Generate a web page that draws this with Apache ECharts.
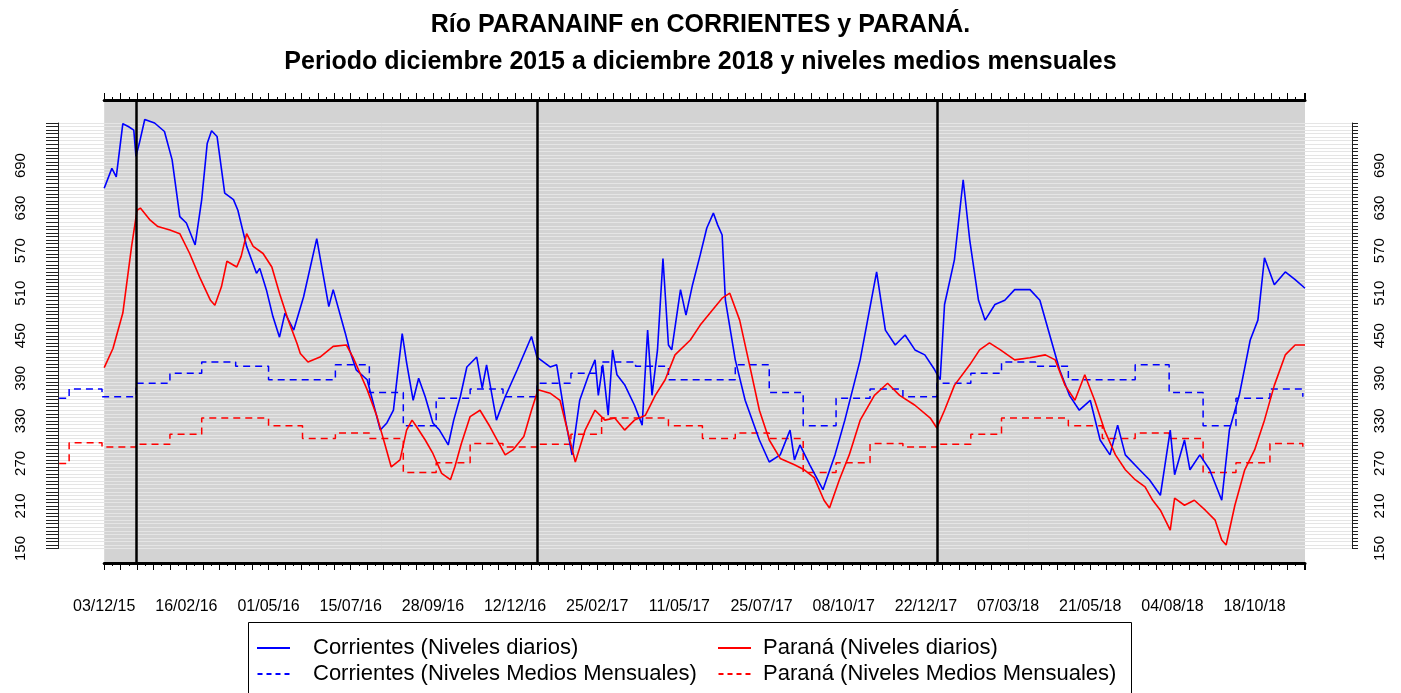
<!DOCTYPE html>
<html><head><meta charset="utf-8">
<script src="https://cdn.jsdelivr.net/npm/echarts@6/dist/echarts.min.js"></script>
<style>html,body{margin:0;padding:0;background:#fff}#c{width:1401px;height:693px}</style>
</head><body><div id="c"></div><script>
// ---- DATA (days counted from 03/12/2015 = day 0) ----
const corrDays = [0,7,11,17,22,27,29,32,37,46,55,62,69,75,83,89,94,98,103,110,118,122,130,139,142,148,154,160,165,173,182,194,205,209,220,224,230,240,252,258,264,272,276,282,287,293,300,306,314,319,325,331,340,345,349,358,366,377,390,395,407,413,421,427,434,442,448,451,455,460,464,468,475,484,491,496,500,505,510,515,518,526,531,537,544,550,556,560,564,567,576,585,598,607,617,626,630,635,644,656,667,676,690,705,713,722,731,740,749,758,763,767,776,784,790,798,804,813,822,831,845,854,863,872,881,890,900,909,918,925,932,945,954,964,973,977,986,991,1000,1009,1020,1027,1036,1046,1053,1059,1068,1078,1087,1096];
const corrLevels = [658,686,674,749,745,740,703,721,755,750,738,698,618,609,578,642,721,739,731,651,642,627,576,538,545,515,477,448,482,458,505,587,491,515,454,430,402,388,317,327,345,453,412,359,390,364,327,317,296,331,364,406,420,376,409,331,364,402,449,420,406,409,331,282,359,394,416,366,409,338,430,395,381,352,324,458,366,430,559,437,430,515,479,522,564,602,623,606,592,500,416,359,303,272,282,317,275,296,268,233,282,331,416,540,458,437,451,430,423,402,388,494,557,670,585,500,472,494,500,515,515,500,451,402,366,345,359,303,282,324,282,261,247,225,317,254,303,261,282,261,218,317,366,444,472,560,522,540,529,517];
const paraDays = [0,8,17,25,30,33,42,49,60,69,78,87,97,101,107,112,121,125,130,136,145,153,160,168,176,179,186,197,209,221,227,240,249,256,262,270,276,281,285,293,300,308,316,320,326,334,343,352,366,373,383,390,396,407,416,425,430,439,448,457,466,475,484,494,503,512,521,535,544,555,564,571,580,589,598,607,617,630,639,648,657,662,671,680,690,703,715,726,740,754,760,767,776,790,799,808,818,831,845,859,868,877,886,895,904,913,923,932,941,950,957,964,973,977,986,995,1005,1014,1020,1024,1032,1041,1050,1059,1068,1078,1087,1096];
const paraLevels = [405,432,482,576,627,630,613,604,599,594,566,533,500,493,519,555,547,562,594,576,566,547,510,472,439,425,413,420,435,437,420,374,336,298,265,275,317,331,322,303,284,256,247,265,298,336,345,322,282,289,308,345,374,369,359,303,272,317,345,331,334,317,331,338,366,388,423,444,465,486,503,510,472,409,345,303,277,268,261,250,218,207,247,282,331,366,383,366,352,334,320,345,380,409,430,440,430,416,419,423,416,380,359,395,359,317,282,261,247,237,218,204,176,221,211,218,204,190,162,155,211,261,289,331,380,423,437,437];
const monthStarts = ['2015-10','2015-11','2015-12',
 '2016-01','2016-02','2016-03','2016-04','2016-05','2016-06','2016-07','2016-08','2016-09','2016-10','2016-11','2016-12',
 '2017-01','2017-02','2017-03','2017-04','2017-05','2017-06','2017-07','2017-08','2017-09','2017-10','2017-11','2017-12',
 '2018-01','2018-02','2018-03','2018-04','2018-05','2018-06','2018-07','2018-08','2018-09','2018-10','2018-11','2018-12'];
const corrMonthly = [362,375,364,
 383,397,413,407,388,388,409,370,323,362,375,364,
 383,397,413,407,388,388,409,370,323,362,375,364,
 383,397,413,407,388,388,409,370,323,362,375,364];
const paraMonthly = [270,299,293,
 297,311,334,334,323,305,313,305,257,271,298,293,
 297,311,334,334,323,305,313,305,257,271,298,293,
 297,311,334,334,323,305,313,305,257,271,298,293];
const yearStarts = ['2016-01-01','2017-01-01','2018-01-01'];
const yTickLabels = [150,210,270,330,390,450,510,570,630,690];
const seriesNames = ['Corrientes (Niveles diarios)','Corrientes (Niveles Medios Mensuales)','Paraná (Niveles diarios)','Paraná (Niveles Medios Mensuales)'];
const titleLines = ['Río PARANAINF en CORRIENTES y PARANÁ.','Periodo diciembre 2015 a diciembre 2018 y niveles medios mensuales'];

// ---- helpers ----
const BASE = Date.UTC(2015, 11, 3), DAY = 86400000;
const dayOfDate = s => { const [y,m,d] = s.split('-').map(Number); return (Date.UTC(y, m-1, d||1) - BASE) / DAY; };
const p2 = n => (n < 10 ? '0' : '') + n;
const fmtDay = d => { const t = new Date(BASE + d*DAY); return p2(t.getUTCDate()) + '/' + p2(t.getUTCMonth()+1) + '/' + p2(t.getUTCFullYear()%100); };
const zip = (a, b) => a.map((v, i) => [v, b[i]]);

// ---- layout ----
const W = 1401, H = 693;
const PL = 104.2, PR = 1305, PT = 100, PB = 563;   // gray panel
const SPAN = 1096;                                  // days shown in panel
const FL = 58, FR = 1352;                           // full plotting region
const Y150 = 548.5, Y750 = 123;
const pxDay = (PR - PL) / SPAN, pxUnit = (Y150 - Y750) / 600;
const xMin = -(PL - FL) / pxDay, xMax = SPAN + (FR - PR) / pxDay;
const yMin = 150 - (PB - Y150) / pxUnit, yMax = 750 + (Y750 - PT) / pxUnit;
const FONT = 'Liberation Sans';
const ICON_SOLID = 'path://M0,0L33,0L33,2L0,2Z';
const ICON_DASH = 'path://M0,0L5,0L5,2L0,2Z M9,0L14,0L14,2L9,2Z M18,0L23,0L23,2L18,2Z M27,0L32,0L32,2L27,2Z';

const monthData = arr => zip(monthStarts.map(dayOfDate), arr);
const tickAxisX = (pos, labels) => ({
  gridIndex: 1, type: 'value', position: pos, min: 0, max: SPAN, interval: 15,
  axisLine: { onZero: false, lineStyle: { color: '#000', width: 3 } },
  axisTick: { length: 7, lineStyle: { color: '#000', width: 1 } },
  minorTick: { show: true, splitNumber: 2, length: 3, lineStyle: { color: '#000', width: 1 } },
  splitLine: { show: false },
  axisLabel: labels ? { show: true, margin: 36, fontSize: 16, fontFamily: FONT, color: '#000',
    formatter: v => (Math.round(v) % 75 === 0 ? fmtDay(Math.round(v)) : '') } : { show: false }
});
const legendBase = { orient: 'vertical', top: 637, padding: 0, itemWidth: 33, itemHeight: 2, itemGap: 4, selectedMode: false };

const option = {
  animation: false,
  backgroundColor: '#fff',
  title: [
    { text: titleLines[0], left: 'center', top: 8, textStyle: { fontSize: 25, fontWeight: 'bold', fontFamily: FONT, color: '#000' } },
    { text: titleLines[1], left: 'center', top: 45, textStyle: { fontSize: 25, fontWeight: 'bold', fontFamily: FONT, color: '#000' } }
  ],
  grid: [
    { left: FL, right: W - FR, top: PT, bottom: H - PB },
    { left: PL, right: W - PR, top: PT, bottom: H - PB, show: true, backgroundColor: '#d3d3d3', borderWidth: 0, z: -1 },
    { left: FL, right: W - FR, top: Y750, bottom: H - Y150 }
  ],
  xAxis: [
    { gridIndex: 0, type: 'value', min: xMin, max: xMax, show: false },
    tickAxisX('bottom', true),
    tickAxisX('top', false),
    { gridIndex: 2, type: 'value', min: 0, max: 1, show: false }
  ],
  yAxis: [
    { gridIndex: 0, type: 'value', min: yMin, max: yMax, show: false },
    { gridIndex: 1, type: 'value', min: 0, max: 1, show: false },
    { gridIndex: 2, type: 'value', position: 'left', min: 150, max: 750, interval: 5,
      axisLine: { show: true, onZero: false, lineStyle: { color: '#222', width: 1 } },
      axisTick: { show: true, length: 12, lineStyle: { color: '#222', width: 1 } },
      axisLabel: { rotate: 90, margin: 30, fontSize: 15, fontFamily: FONT, color: '#000',
        formatter: v => (yTickLabels.indexOf(Math.round(v)) >= 0 ? String(Math.round(v)) : '') },
      splitLine: { show: true, lineStyle: { color: '#e5e5e5', width: 1 } } },
    { gridIndex: 2, type: 'value', position: 'right', min: 150, max: 750, interval: 5,
      axisLine: { show: true, onZero: false, lineStyle: { color: '#222', width: 1 } },
      axisTick: { show: true, length: 6, lineStyle: { color: '#222', width: 1 } },
      axisLabel: { rotate: 90, margin: 20, fontSize: 15, fontFamily: FONT, color: '#000',
        formatter: v => (yTickLabels.indexOf(Math.round(v)) >= 0 ? String(Math.round(v)) : '') },
      splitLine: { show: false } }
  ],
  legend: [
    Object.assign({}, legendBase, { left: 257,
      data: [{ name: seriesNames[0], icon: ICON_SOLID }, { name: seriesNames[1], icon: ICON_DASH }],
      textStyle: { fontSize: 22, fontFamily: FONT, color: '#000', padding: [0, 0, 0, 18] } }),
    Object.assign({}, legendBase, { left: 718,
      data: [{ name: seriesNames[2], icon: ICON_SOLID }, { name: seriesNames[3], icon: ICON_DASH }],
      textStyle: { fontSize: 22, fontFamily: FONT, color: '#000', padding: [0, 0, 0, 7] } })
  ],
  graphic: [
    { type: 'rect', shape: { x: 248.5, y: 622.5, width: 883, height: 90 }, style: { fill: 'none', stroke: '#000', lineWidth: 1 }, silent: true }
  ],
  series: [
    { name: seriesNames[1], type: 'line', xAxisIndex: 0, yAxisIndex: 0, step: 'end', symbol: 'none',
      data: monthData(corrMonthly), lineStyle: { color: '#0000ff', width: 1.5, type: [7, 5] }, itemStyle: { color: '#0000ff' }, z: 2 },
    { name: seriesNames[3], type: 'line', xAxisIndex: 0, yAxisIndex: 0, step: 'end', symbol: 'none',
      data: monthData(paraMonthly), lineStyle: { color: '#ff0000', width: 1.5, type: [7, 5] }, itemStyle: { color: '#ff0000' }, z: 2 },
    { name: seriesNames[0], type: 'line', xAxisIndex: 0, yAxisIndex: 0, symbol: 'none',
      data: zip(corrDays, corrLevels), lineStyle: { color: '#0000ff', width: 1.6 }, itemStyle: { color: '#0000ff' }, z: 3,
      markLine: { silent: true, symbol: 'none', label: { show: false }, animation: false,
        lineStyle: { color: '#000', width: 2.5, type: 'solid' },
        data: yearStarts.map(s => ({ xAxis: dayOfDate(s) })) } },
    { name: seriesNames[2], type: 'line', xAxisIndex: 0, yAxisIndex: 0, symbol: 'none',
      data: zip(paraDays, paraLevels), lineStyle: { color: '#ff0000', width: 1.6 }, itemStyle: { color: '#ff0000' }, z: 3 }
  ]
};
const chart = echarts.init(document.getElementById('c'), null, { renderer: 'canvas' });
chart.setOption(option);
</script></body></html>
